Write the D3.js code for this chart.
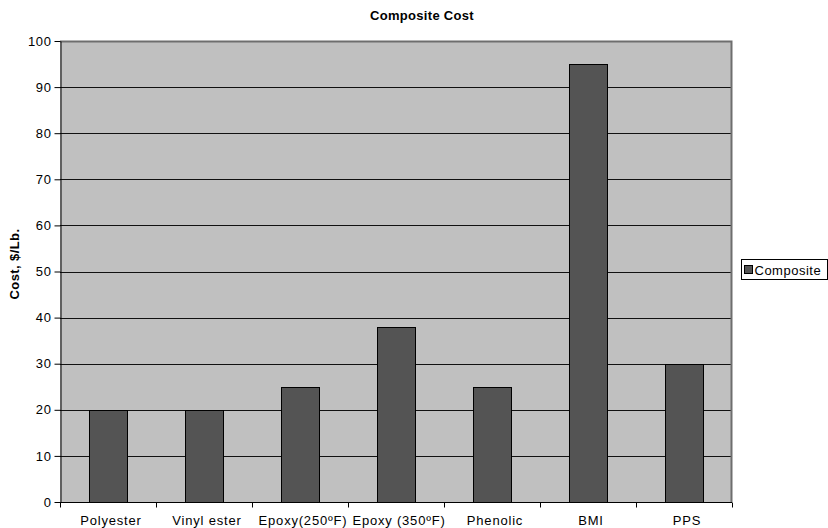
<!DOCTYPE html>
<html>
<head>
<meta charset="utf-8">
<script src="https://cdn.jsdelivr.net/npm/d3@7/dist/d3.min.js"></script>
<style>
  body { margin: 0; background: #fff; }
  text { font-family: "Liberation Sans", Arial, Helvetica, sans-serif; }
</style>
</head>
<body>
<svg id="chart" width="828" height="528"></svg>
<script>
// Material categories and their composite cost ($/lb)
const categories = ["Polyester", "Vinyl ester", "Epoxy(250ºF)", "Epoxy (350ºF)", "Phenolic", "BMI", "PPS"];
const compositeCost = [20, 20, 25, 38, 25, 95, 30];
const yTicks = [0, 10, 20, 30, 40, 50, 60, 70, 80, 90, 100];
const seriesName = "Composite";
const chartTitle = "Composite Cost";
const yAxisTitle = "Cost, $/Lb.";

const svg = d3.select("#chart");
const plot = { left: 60, right: 732, top: 41, bottom: 502 };

const x = d3.scaleBand()
  .domain(categories)
  .range([plot.left, plot.right])
  .paddingInner(0.6)
  .paddingOuter(0.3);

const xBand = d3.scaleBand().domain(categories).range([plot.left, plot.right]);

const y = d3.scaleLinear().domain([0, 100]).range([plot.bottom, plot.top]);

// Plot background
svg.append("rect")
  .attr("x", plot.left).attr("y", plot.top)
  .attr("width", plot.right - plot.left).attr("height", plot.bottom - plot.top)
  .attr("fill", "#c0c0c0");

// Horizontal gridlines
svg.append("g")
  .selectAll("line")
  .data(yTicks.filter(d => d > 0 && d < 100))
  .join("line")
  .attr("x1", plot.left).attr("x2", plot.right)
  .attr("y1", d => Math.round(y(d)) + 0.5).attr("y2", d => Math.round(y(d)) + 0.5)
  .attr("stroke", "#111").attr("stroke-width", 1);

// Plot border (top and right edges)
svg.append("path")
  .attr("d", `M${plot.left},${plot.top + 0.5}H${plot.right - 0.5}V${plot.bottom}`)
  .attr("fill", "none").attr("stroke", "#6e6e6e").attr("stroke-width", 2);

// Bars
svg.append("g")
  .selectAll("rect")
  .data(categories.map((c, i) => ({ c, v: compositeCost[i] })))
  .join("rect")
  .attr("x", d => Math.round(x(d.c)) + 0.5)
  .attr("y", d => Math.round(y(d.v)) + 0.5)
  .attr("width", Math.round(x.bandwidth()))
  .attr("height", d => Math.round(y(0)) - Math.round(y(d.v)))
  .attr("fill", "#545454")
  .attr("stroke", "#000").attr("stroke-width", 1);

// Y axis
const yAxis = svg.append("g")
  .attr("transform", `translate(${plot.left + 0.5},0)`)
  .call(d3.axisLeft(y).tickValues(yTicks).tickSize(6).tickPadding(3).tickSizeOuter(0));
yAxis.select(".domain").attr("stroke", "#000");
yAxis.selectAll(".tick line").attr("stroke", "#000");
yAxis.selectAll(".tick text")
  .attr("font-size", 13).attr("fill", "#000")
  .style("letter-spacing", "0.6px");

// X axis with ticks at category boundaries
const xAxisG = svg.append("g")
  .attr("transform", `translate(0,${Math.round(plot.bottom) + 0.5})`);
xAxisG.append("line")
  .attr("x1", plot.left).attr("x2", plot.right)
  .attr("stroke", "#000");
const boundaries = categories.map(c => xBand(c)).concat([plot.right]);
xAxisG.selectAll(".xtick")
  .data(boundaries)
  .join("line")
  .attr("class", "xtick")
  .attr("x1", d => Math.round(d) + 0.5).attr("x2", d => Math.round(d) + 0.5)
  .attr("y1", 0).attr("y2", 5)
  .attr("stroke", "#000");
xAxisG.selectAll(".xlabel")
  .data(categories)
  .join("text")
  .attr("class", "xlabel")
  .attr("x", d => xBand(d) + xBand.bandwidth() / 2 + 3)
  .attr("y", 22)
  .attr("text-anchor", "middle")
  .attr("font-size", 13)
  .style("letter-spacing", "0.8px")
  .text(d => d);

// Title
svg.append("text")
  .attr("x", 422).attr("y", 20)
  .attr("text-anchor", "middle")
  .attr("font-size", 13).attr("font-weight", "bold")
  .style("letter-spacing", "0.3px")
  .text(chartTitle);

// Y axis title
svg.append("text")
  .attr("transform", `translate(19,264) rotate(-90)`)
  .attr("text-anchor", "middle")
  .attr("font-size", 13).attr("font-weight", "bold")
  .style("letter-spacing", "0.4px")
  .text(yAxisTitle);

// Legend
const legend = svg.append("g").attr("transform", "translate(741.5,259.5)");
legend.append("rect")
  .attr("width", 86).attr("height", 20)
  .attr("fill", "#fff").attr("stroke", "#000");
legend.append("rect")
  .attr("x", 3).attr("y", 6).attr("width", 8).attr("height", 8)
  .attr("fill", "#545454").attr("stroke", "#000");
legend.append("text")
  .attr("x", 13).attr("y", 15)
  .attr("font-size", 13)
  .style("letter-spacing", "0.5px")
  .text(seriesName);
</script>
</body>
</html>
